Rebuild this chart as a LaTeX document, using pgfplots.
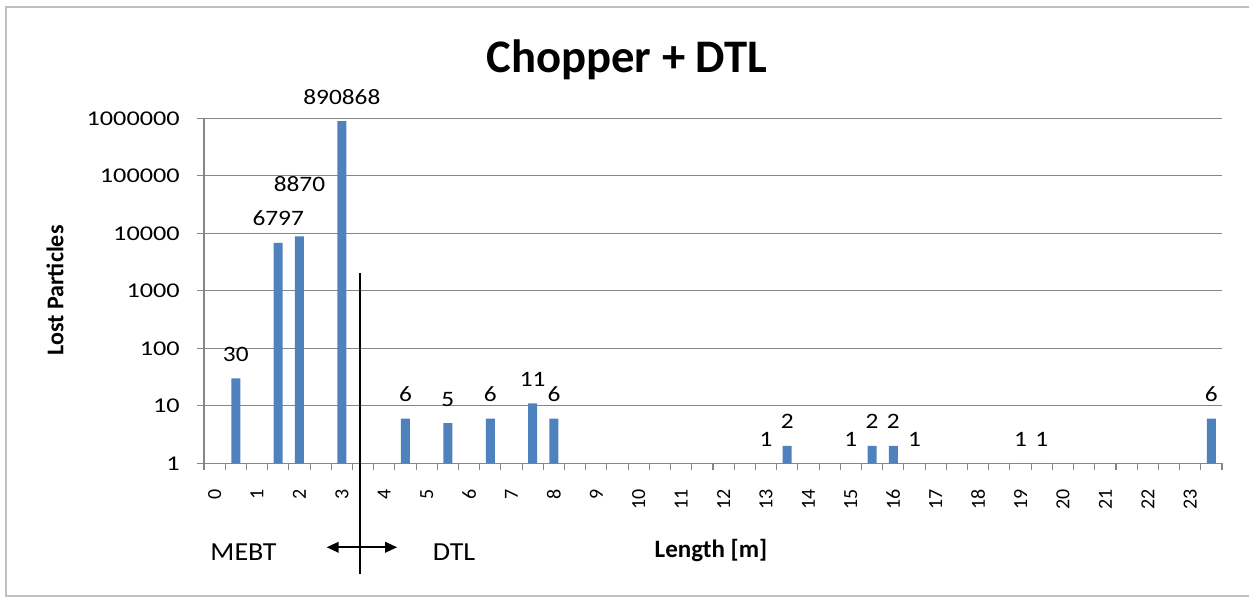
\documentclass[border=0pt]{standalone}
\usepackage{pgfplots}
\pgfplotsset{compat=1.18}
\usepackage{pgfplotstable}
\usepackage{fontspec}
\usetikzlibrary{arrows.meta}
\setmainfont{Carlito}
\newfontfamily\numfont{Carlito}[FakeStretch=1.25]
\newfontfamily\datafont{Carlito}[FakeStretch=1.15]
\newfontfamily\annfont{Carlito}[FakeStretch=1.08]
\definecolor{barblue}{HTML}{4F81BD}
\definecolor{gridgray}{HTML}{868686}
\definecolor{framegray}{HTML}{C0C0C0}

\pgfplotstableread{
x    y      lab    dy
0.5  30     30     12.75
1.5  6797   6797   12.75
2    8870   8870   33.75
3    890868 890868 12.75
4.5  6      6      12.75
5.5  5      5      12.75
6.5  6      6      12.75
7.5  11     11     12.75
8    6      6      12.75
13   1      1      12.75
13.5 2      2      12.75
15   1      1      12.75
15.5 2      2      12.75
16   2      2      12.75
16.5 1      1      12.75
19   1      1      12.75
19.5 1      1      12.75
23.5 6      6      12.75
}\lossdata

\begin{document}
\begin{tikzpicture}
\useasboundingbox (0,0) rectangle (936.75pt,447.75pt);
\draw[framegray, line width=1.5pt] (945pt,442.5pt) -- (4.5pt,442.5pt) -- (4.5pt,0.9pt) -- (945pt,0.9pt);
\begin{axis}[
  at={(153pt,100.3pt)}, anchor=south west,
  scale only axis, width=763.5pt, height=258.75pt,
  ymode=log, ymin=1, ymax=1000000, log origin=0,
  xmin=-0.25, xmax=23.75,
  clip=false,
  axis x line*=bottom, axis y line*=left,
  axis line style={draw=gridgray, line width=0.8pt, -},
  ymajorgrids, major grid style={draw=gridgray, line width=0.8pt},
  ytick={1,10,100,1000,10000,100000,1000000},
  yticklabels={1,10,100,1000,10000,100000,1000000},
  yminorticks=false,
  xtick={0,1,...,23},
  xticklabels={0,1,2,3,4,5,6,7,8,9,10,11,12,13,14,15,16,17,18,19,20,21,22,23},
  minor xtick={-0.25,0.25,...,23.8},
  tick align=outside,
  major tick length=5.25pt, minor tick length=5.25pt,
  xtick style={draw=none},
  minor x tick style={draw=gridgray, line width=0.8pt},
  ytick style={draw=gridgray, line width=0.8pt},
  yticklabel style={font=\numfont\fontsize{15.75pt}{18pt}\selectfont, anchor=east, inner sep=0pt, xshift=-12.75pt},
  xticklabel style={font=\fontsize{15pt}{18pt}\selectfont, yshift=-14pt, rotate=90, anchor=east, inner sep=0pt},
  title={Chopper + DTL},
  every axis title/.style={at={(axis description cs:0.4155,1.134)}, anchor=base, font=\bfseries\fontsize{35pt}{40pt}\selectfont},
  xlabel={Length [m]},
  every axis x label/.style={at={(axis description cs:0.498,-0.2745)}, anchor=base, font=\bfseries\fontsize{18.75pt}{22pt}\selectfont},
  ylabel={Lost Particles},
  every axis y label/.style={at={(axis description cs:-0.1464,0.501)}, rotate=90, anchor=center, font=\bfseries\fontsize{18pt}{22pt}\selectfont},
  ybar, bar width=6.75pt,
]
\addplot[fill=barblue, draw=none,
  point meta=explicit symbolic,
  visualization depends on={\thisrow{dy} \as \labdy},
  nodes near coords,
  nodes near coords style={anchor=base, yshift=\labdy pt, font=\datafont\fontsize{16.5pt}{18pt}\selectfont, text=black, inner sep=0pt},
] table[x=x, y=y, meta=lab] {\lossdata};

\node[anchor=base, font=\annfont\fontsize{19.5pt}{22pt}\selectfont] at (axis description cs:0.0388,-0.2818) {MEBT};
\node[anchor=base, font=\annfont\fontsize{19.5pt}{22pt}\selectfont] at (axis description cs:0.2456,-0.2818) {DTL};
\draw[black, line width=0.9pt] (axis description cs:0.1532,0.5516) -- (axis description cs:0.1532,-0.3209);
\draw[black, line width=1.2pt, {Triangle[length=9pt,width=8pt]}-{Triangle[length=9pt,width=8pt]}] (axis description cs:0.1205,-0.2435) -- (axis description cs:0.1897,-0.2435);
\end{axis}
\end{tikzpicture}
\end{document}
